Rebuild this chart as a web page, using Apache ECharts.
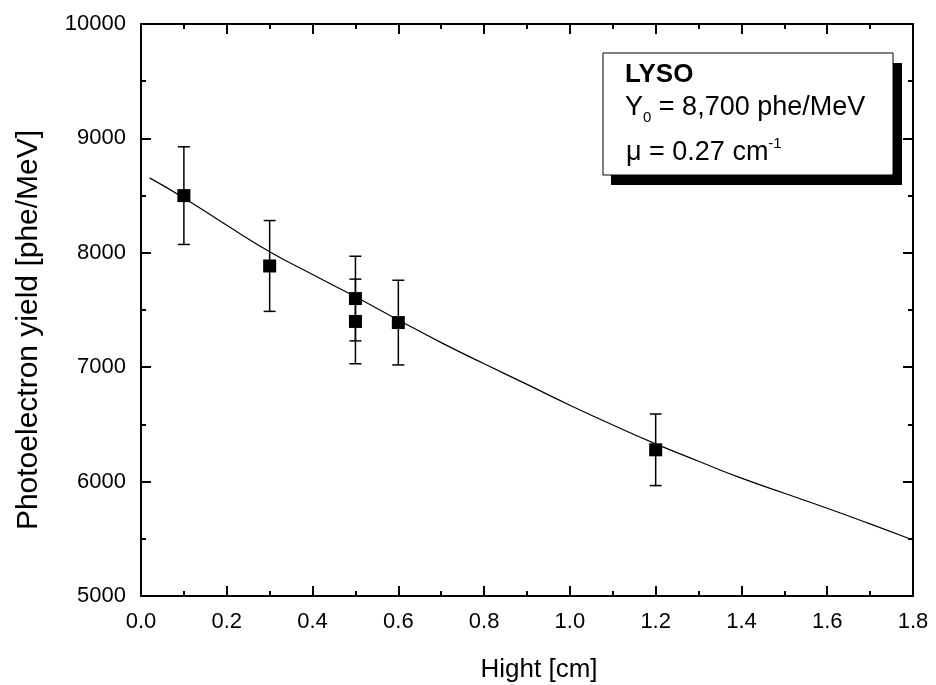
<!DOCTYPE html>
<html>
<head>
<meta charset="utf-8">
<script src="https://cdn.jsdelivr.net/npm/echarts@6/dist/echarts.min.js"></script>
<style>
html,body{margin:0;padding:0;background:#fff;}
#chart{width:936px;height:685px;}
</style>
</head>
<body>
<div id="chart"></div>
<script>
// Measured data (x = height in cm, y = photoelectron yield)
var pointX = [0.1, 0.3, 0.5, 0.5, 0.6, 1.2];
var pointY = [8500, 7885, 7600, 7400, 7390, 6278];
var pointErr = [427, 397, 370, 370, 370, 313];

// Fit curve
var fitX = [0.02, 0.1, 0.2, 0.3, 0.4, 0.5, 0.6, 0.7, 0.8, 0.9, 1.0, 1.1, 1.2, 1.3, 1.4, 1.5, 1.6, 1.7, 1.8];
var fitY = [8655, 8480, 8240, 8010, 7810, 7616, 7413, 7215, 7030, 6850, 6668, 6495, 6330, 6178, 6030, 5898, 5767, 5630, 5490];

var xTicks = {min: 0, max: 1.8, interval: 0.2};
var yTicks = {min: 5000, max: 10000, interval: 1000};

var FONT = '"Liberation Sans", Arial, sans-serif';

var scatterData = pointX.map(function (x, i) { return [x, pointY[i]]; });
var errData = pointX.map(function (x, i) { return [x, pointY[i] - pointErr[i], pointY[i] + pointErr[i]]; });
var fitData = fitX.map(function (x, i) { return [x, fitY[i]]; });

var chart = echarts.init(document.getElementById('chart'), null, {renderer: 'canvas'});

function axisCommon(showLabel) {
  return {
    axisLine: {show: true, onZero: false, lineStyle: {color: '#000', width: 2}},
    axisTick: {show: true, inside: true, length: 10, lineStyle: {color: '#000', width: 2}},
    minorTick: {show: true, splitNumber: 2, length: 5, lineStyle: {color: '#000', width: 2}},
    splitLine: {show: false},
    minorSplitLine: {show: false},
    axisLabel: {show: showLabel, color: '#000', fontFamily: FONT, fontSize: 22}
  };
}

var xBottom = Object.assign({type: 'value', position: 'bottom', min: xTicks.min, max: xTicks.max, interval: xTicks.interval,
  name: 'Hight [cm]', nameLocation: 'middle', nameGap: 61,
  nameTextStyle: {color: '#000', fontFamily: FONT, fontSize: 26, padding: [0, 0, 0, 24]}}, axisCommon(true));
xBottom.axisLabel.margin = 15;
xBottom.axisLabel.formatter = function (v) { return v.toFixed(1); };

var xTop = Object.assign({type: 'value', position: 'top', min: xTicks.min, max: xTicks.max, interval: xTicks.interval}, axisCommon(false));

var yLeft = Object.assign({type: 'value', position: 'left', min: yTicks.min, max: yTicks.max, interval: yTicks.interval,
  name: 'Photoelectron yield [phe/MeV]', nameLocation: 'middle', nameGap: 97, nameRotate: 90,
  nameTextStyle: {color: '#000', fontFamily: FONT, fontSize: 30, padding: [0, 40, 0, 0]}}, axisCommon(true));
yLeft.axisLabel.margin = 15;
yLeft.axisLabel.formatter = function (v) { return String(v); };

var yRight = Object.assign({type: 'value', position: 'right', min: yTicks.min, max: yTicks.max, interval: yTicks.interval}, axisCommon(false));

var option = {
  backgroundColor: '#fff',
  animation: false,
  grid: {left: 141, right: 23, top: 24, bottom: 89, containLabel: false, outerBoundsMode: 'none'},
  xAxis: [xBottom, xTop],
  yAxis: [yLeft, yRight],
  series: [
    {
      type: 'line', data: fitData, xAxisIndex: 0, yAxisIndex: 0,
      smooth: true, showSymbol: false, symbol: 'none',
      lineStyle: {color: '#000', width: 1.2}, z: 2
    },
    {
      type: 'custom', data: errData, xAxisIndex: 0, yAxisIndex: 0, z: 3,
      renderItem: function (params, api) {
        var x = api.value(0);
        var lo = api.coord([x, api.value(1)]);
        var hi = api.coord([x, api.value(2)]);
        var hw = 6;
        var st = {stroke: '#000', lineWidth: 1.5};
        return {
          type: 'group',
          children: [
            {type: 'line', shape: {x1: lo[0], y1: lo[1], x2: hi[0], y2: hi[1]}, style: st},
            {type: 'line', shape: {x1: lo[0] - hw, y1: lo[1], x2: lo[0] + hw, y2: lo[1]}, style: st},
            {type: 'line', shape: {x1: hi[0] - hw, y1: hi[1], x2: hi[0] + hw, y2: hi[1]}, style: st}
          ]
        };
      }
    },
    {
      type: 'scatter', data: scatterData, xAxisIndex: 0, yAxisIndex: 0,
      symbol: 'rect', symbolSize: 13, itemStyle: {color: '#000', opacity: 1}, z: 4
    }
  ],
  graphic: [
    {type: 'rect', shape: {x: 611, y: 63, width: 291, height: 122}, style: {fill: '#000'}, z: 10},
    {type: 'rect', shape: {x: 603, y: 53, width: 290, height: 122}, style: {fill: '#fff', stroke: '#000', lineWidth: 1}, z: 11},
    {type: 'text', x: 625, y: 75, z: 12, style: {text: 'LYSO', fontFamily: FONT, fontSize: 26, fontWeight: 'bold', fill: '#000', verticalAlign: 'middle'}},
    {type: 'text', x: 625, y: 108, z: 12, style: {
      text: '{a|Y}{s|0}{a| = 8,700 phe/MeV}', verticalAlign: 'middle', fill: '#000',
      rich: {
        a: {fontFamily: FONT, fontSize: 27, fill: '#000', verticalAlign: 'middle', lineHeight: 34},
        s: {fontFamily: FONT, fontSize: 15, fill: '#000', verticalAlign: 'bottom', lineHeight: 34}
      }}},
    {type: 'text', x: 626, y: 153, z: 12, style: {
      text: '{a|μ = 0.27 cm}{s|-1}', verticalAlign: 'middle', fill: '#000',
      rich: {
        a: {fontFamily: FONT, fontSize: 27, fill: '#000', verticalAlign: 'middle', lineHeight: 34},
        s: {fontFamily: FONT, fontSize: 15, fill: '#000', verticalAlign: 'top', lineHeight: 22}
      }}}
  ]
};
chart.setOption(option);
</script>
</body>
</html>
